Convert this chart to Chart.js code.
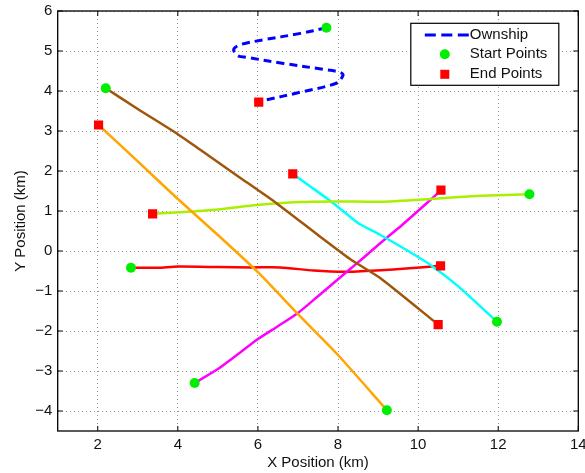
<!DOCTYPE html>
<html>
<head>
<meta charset="utf-8">
<title>Track Positions</title>
<script src="https://cdn.jsdelivr.net/npm/chart.js@4.4.1/dist/chart.umd.min.js"></script>
<style>
    html, body { margin: 0; padding: 0; background: #fff; }
    #divGraph { width: 585px; height: 473px; }
</style>
</head>
<body>
<div id="divGraph"><canvas id="canvGraph" width="585" height="473"></canvas></div>
<script>
var xTicks = [2, 4, 6, 8, 10, 12, 14];
var yTicks = [-4, -3, -2, -1, 0, 1, 2, 3, 4, 5, 6];

// every track is listed from its start point to its end point
var ownshipX = [7.71, 7.06, 6.14, 5.6, 5.42, 5.4, 5.5, 5.73, 6.64, 7.64, 7.97, 8.1, 8.12, 7.97, 7.06, 6.14, 6.02];
var ownshipY = [5.58, 5.44, 5.28, 5.17, 5.08, 5.0, 4.88, 4.84, 4.69, 4.54, 4.49, 4.44, 4.38, 4.2, 3.97, 3.76, 3.72];

var brownX = [2.2, 3, 4, 4.56, 5.5, 6.47, 7.5, 8.3, 9.06, 10.5];
var brownY = [4.07, 3.55, 2.92, 2.53, 1.87, 1.19, 0.4, -0.2, -0.68, -1.84];

var orangeX = [9.22, 8, 7, 6, 5, 4, 3, 2.02];
var orangeY = [-3.98, -2.6, -1.58, -0.53, 0.4, 1.3, 2.24, 3.15];

var limeX = [12.78, 11.56, 10.31, 9.06, 8, 6.89, 5.97, 5, 4.06, 3.37];
var limeY = [1.42, 1.38, 1.3, 1.23, 1.24, 1.22, 1.15, 1.04, 0.97, 0.93];

var cyanX = [11.97, 11.01, 10.31, 9.7, 9.06, 8.5, 7.89, 7.3, 6.87];
var cyanY = [-1.77, -0.89, -0.35, 0.03, 0.4, 0.7, 1.19, 1.62, 1.93];

var magentaX = [4.42, 5, 5.5, 6, 6.5, 7, 7.5, 8.22, 8.6, 9.06, 9.6, 10.31, 10.57];
var magentaY = [-3.3, -2.95, -2.58, -2.2, -1.88, -1.55, -1.13, -0.52, -0.2, 0.2, 0.65, 1.28, 1.52];

var redX = [2.83, 3.5, 4, 5, 5.85, 6.56, 7.39, 8.22, 9.06, 9.7, 10.56];
var redY = [-0.42, -0.42, -0.39, -0.4, -0.41, -0.41, -0.49, -0.52, -0.48, -0.44, -0.37];

var legendLabels = ['Ownship', 'Start Points', 'End Points'];

var FONT = { family: "'Liberation Sans', Arial, Helvetica, sans-serif", size: 15 };
var TEXT_COLOR = '#111';

var _chart;

function toPoints(xs, ys) {
    var pts = [];
    for (var i = 0; i < xs.length; i++) {
        pts.push({ x: xs[i], y: ys[i] });
    }
    return pts;
}

function trackDataset(xs, ys, color) {
    return {
        data: toPoints(xs, ys),
        showLine: true,
        borderColor: color,
        backgroundColor: color,
        borderWidth: 2.5,
        pointRadius: 0,
        tension: 0.2,
        order: 2
    };
}

function buildDatasets() {
    var tracks = [
        [brownX, brownY, '#a0560a'],
        [orangeX, orangeY, '#ffa500'],
        [limeX, limeY, '#a8f000'],
        [cyanX, cyanY, '#00ffff'],
        [magentaX, magentaY, '#ff00ff'],
        [redX, redY, '#ff0000']
    ];

    var starts = [{ x: ownshipX[0], y: ownshipY[0] }];
    var ends = [{ x: ownshipX[ownshipX.length - 1], y: ownshipY[ownshipY.length - 1] }];
    var sets = [];

    sets.push({
        label: legendLabels[0],
        data: toPoints(ownshipX, ownshipY),
        showLine: true,
        borderColor: '#0000ff',
        borderWidth: 3,
        borderDash: [8, 5],
        pointRadius: 0,
        tension: 0.35,
        order: 2
    });

    $each(tracks, function (t) {
        sets.push(trackDataset(t[0], t[1], t[2]));
        starts.push({ x: t[0][0], y: t[1][0] });
        ends.push({ x: t[0][t[0].length - 1], y: t[1][t[1].length - 1] });
    });

    sets.push({
        label: legendLabels[1],
        data: starts,
        showLine: false,
        pointStyle: 'circle',
        pointRadius: 5,
        pointBorderWidth: 0,
        backgroundColor: '#00ee00',
        borderColor: '#00ee00',
        order: 0
    });

    sets.push({
        label: legendLabels[2],
        data: ends,
        showLine: false,
        pointStyle: 'rect',
        pointRadius: 6.5,
        pointBorderWidth: 0,
        backgroundColor: '#ff0000',
        borderColor: '#ff0000',
        order: 1
    });

    return sets;
}

function $each(arr, fn) {
    for (var i = 0; i < arr.length; i++) fn(arr[i], i);
}

// box round the plot area and small ticks pointing inwards
function drawFrame(chart) {
    var ctx = chart.ctx, a = chart.chartArea;
    var sx = chart.scales.x, sy = chart.scales.y;
    ctx.save();
    ctx.strokeStyle = '#000';
    ctx.lineWidth = 1.3;
    ctx.setLineDash([]);
    ctx.strokeRect(a.left, a.top, a.right - a.left, a.bottom - a.top);
    ctx.lineWidth = 1;
    ctx.beginPath();
    $each(xTicks, function (v) {
        var px = sx.getPixelForValue(v);
        ctx.moveTo(px, a.bottom); ctx.lineTo(px, a.bottom - 5);
        ctx.moveTo(px, a.top); ctx.lineTo(px, a.top + 5);
    });
    $each(yTicks, function (v) {
        var py = sy.getPixelForValue(v);
        ctx.moveTo(a.left, py); ctx.lineTo(a.left + 5, py);
        ctx.moveTo(a.right, py); ctx.lineTo(a.right - 5, py);
    });
    ctx.stroke();
    ctx.restore();
}

function drawLegend(chart) {
    var ctx = chart.ctx, a = chart.chartArea;
    var sets = chart.data.datasets;
    var own = sets[0], st = sets[sets.length - 2], en = sets[sets.length - 1];
    var w = 148, h = 62;
    var left = a.right - 19.5 - w, top = a.top + 12.3;
    var rows = [top + 11.7, top + 31, top + 51];

    ctx.save();
    ctx.fillStyle = '#fff';
    ctx.fillRect(left, top, w, h);
    ctx.strokeStyle = '#000';
    ctx.lineWidth = 1.2;
    ctx.strokeRect(left, top, w, h);

    ctx.strokeStyle = own.borderColor;
    ctx.lineWidth = 3;
    ctx.setLineDash([11, 5.5]);
    ctx.beginPath();
    ctx.moveTo(left + 14, rows[0]);
    ctx.lineTo(left + 58, rows[0]);
    ctx.stroke();
    ctx.setLineDash([]);

    ctx.fillStyle = st.backgroundColor;
    ctx.beginPath();
    ctx.arc(left + 34, rows[1], 5, 0, Math.PI * 2);
    ctx.fill();

    ctx.fillStyle = en.backgroundColor;
    ctx.fillRect(left + 34 - 4.5, rows[2] - 4.5, 9, 9);

    ctx.fillStyle = TEXT_COLOR;
    ctx.font = FONT.size + 'px ' + FONT.family;
    ctx.textAlign = 'left';
    ctx.textBaseline = 'middle';
    $each(legendLabels, function (txt, i) {
        ctx.fillText(txt, left + 59, rows[i]);
    });
    ctx.restore();
}

var framePlugin = {
    id: 'framePlugin',
    afterDraw: function (chart) {
        drawFrame(chart);
        drawLegend(chart);
    }
};

function minusSign(v) {
    return String(v).replace('-', '\u2212');
}

function buildChart() {
    var ctx = document.getElementById('canvGraph').getContext('2d');

    _chart = new Chart(ctx, {
        type: 'scatter',
        data: { datasets: buildDatasets() },
        plugins: [framePlugin],
        options: {
            responsive: false,
            animation: false,
            devicePixelRatio: 1,
            layout: { padding: { top: 11, right: 6.7, left: 0, bottom: 0 } },
            plugins: {
                legend: { display: false },
                tooltip: { enabled: false }
            },
            scales: {
                x: {
                    type: 'linear',
                    min: 1,
                    max: 14,
                    afterBuildTicks: function (s) {
                        s.ticks = xTicks.map(function (v) { return { value: v }; });
                    },
                    afterFit: function (s) {
                        s.height = 42;
                        s.paddingLeft = 0;
                        s.paddingRight = 0;
                    },
                    grid: { color: '#999', lineWidth: 1, drawTicks: false },
                    border: { display: false, dash: [1, 3] },
                    ticks: { font: FONT, color: TEXT_COLOR, padding: 5, maxRotation: 0 },
                    title: {
                        display: true,
                        text: 'X Position (km)',
                        font: FONT,
                        color: TEXT_COLOR,
                        padding: { top: 0, bottom: 1.3 }
                    }
                },
                y: {
                    type: 'linear',
                    min: -4.5,
                    max: 6,
                    afterBuildTicks: function (s) {
                        s.ticks = yTicks.map(function (v) { return { value: v }; });
                    },
                    afterFit: function (s) {
                        s.width = 57.7;
                        s.paddingTop = 0;
                        s.paddingBottom = 0;
                    },
                    grid: { color: '#999', lineWidth: 1, drawTicks: false },
                    border: { display: false, dash: [1, 3] },
                    ticks: { font: FONT, color: TEXT_COLOR, padding: 5.4, callback: minusSign },
                    title: {
                        display: true,
                        text: 'Y Position (km)',
                        font: FONT,
                        color: TEXT_COLOR,
                        padding: { top: 11.7, bottom: 0 }
                    }
                }
            }
        }
    });
}

buildChart();
</script>
</body>
</html>
